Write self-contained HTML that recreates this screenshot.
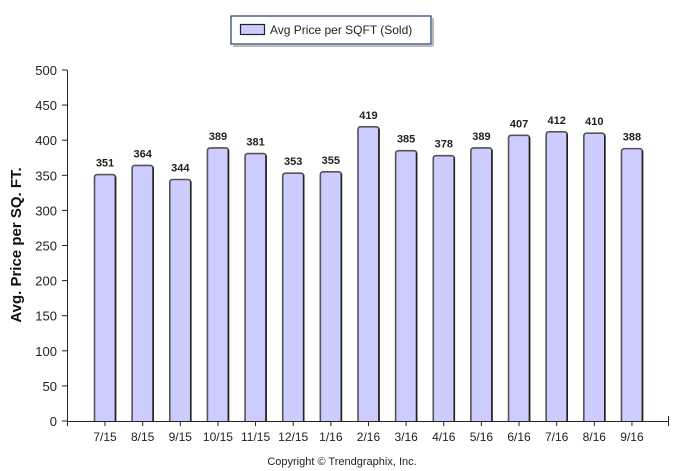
<!DOCTYPE html>
<html><head><meta charset="utf-8"><style>
html,body{margin:0;padding:0;background:#fff;width:685px;height:471px;overflow:hidden}
text{font-family:"Liberation Sans",Arial,sans-serif}
</style></head><body>
<svg id="c" width="685" height="471" xmlns="http://www.w3.org/2000/svg">
<rect x="231" y="16" width="200" height="28" fill="#fff" stroke="#1f3a6a" stroke-width="1.2"/>
<line x1="433" y1="18" x2="433" y2="46" stroke="#bbb" stroke-width="2"/>
<line x1="233" y1="46" x2="433" y2="46" stroke="#bbb" stroke-width="2"/>
<rect x="240.5" y="24.5" width="24" height="10" fill="#ccccff" stroke="#222" stroke-width="1.2"/>
<text x="270" y="34" font-size="12" fill="#222">Avg Price per SQFT (Sold)</text>
<text transform="translate(21,245) rotate(-90)" text-anchor="middle" font-size="15" font-weight="bold" fill="#111">Avg. Price per SQ. FT.</text>
<text x="342" y="465" text-anchor="middle" font-size="11" fill="#222">Copyright © Trendgraphix, Inc.</text>
</svg>
<script>
var s=document.getElementById('c'),h='';
var v=[351,364,344,389,381,353,355,419,385,378,389,407,412,410,388];
var L=['7/15','8/15','9/15','10/15','11/15','12/15','1/16','2/16','3/16','4/16','5/16','6/16','7/16','8/16','9/16'];
function Y(x){return 421-x*0.702;}
for(var t=0;t<=500;t+=50){var y=Y(t);h+='<line x1="62" y1="'+y+'" x2="67" y2="'+y+'" stroke="#222"/>';
h+='<text x="57" y="'+(y+5)+'" text-anchor="end" font-size="13" fill="#222">'+t+'</text>';}
h+='<line x1="67.5" y1="70" x2="67.5" y2="421" stroke="#222"/>';
for(var i=0;i<15;i++){var cx=105+i*37.64,y=Y(v[i]);
h+='<path d="M'+(cx-10.5)+' 421 V'+(y+3)+' Q'+(cx-10.5)+' '+y+' '+(cx-7.5)+' '+y+' H'+(cx+7.5)+' Q'+(cx+10.5)+' '+y+' '+(cx+10.5)+' '+(y+3)+' V421" fill="#ccccff" stroke="#555" stroke-width="1.6"/>';
h+='<line x1="'+(cx+10.5)+'" y1="'+(y+2)+'" x2="'+(cx+10.5)+'" y2="421" stroke="#222" stroke-width="1.6"/>';
h+='<text x="'+cx+'" y="'+(y-8)+'" text-anchor="middle" font-size="11" font-weight="bold" fill="#222">'+v[i]+'</text>';
h+='<line x1="'+cx+'" y1="421" x2="'+cx+'" y2="426" stroke="#222"/>';
h+='<text x="'+cx+'" y="441" text-anchor="middle" font-size="12" fill="#222">'+L[i]+'</text>';}
h+='<line x1="67" y1="421.5" x2="669" y2="421.5" stroke="#222"/><line x1="67.5" y1="421" x2="67.5" y2="426" stroke="#222"/><line x1="668.5" y1="416" x2="668.5" y2="426" stroke="#222"/>';
s.insertAdjacentHTML('beforeend',h);
</script>
</body></html>
